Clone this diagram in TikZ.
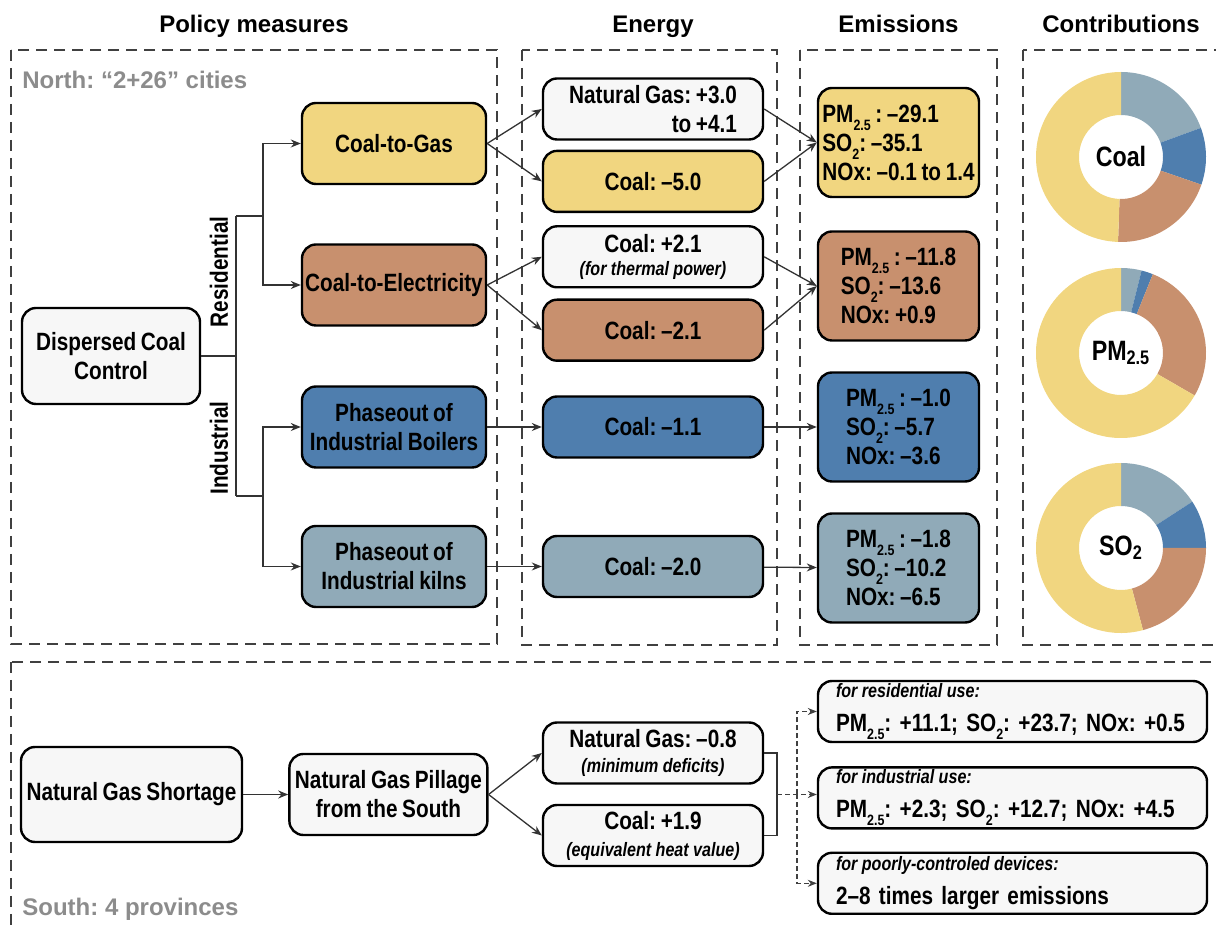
\documentclass[tikz,border=0pt]{standalone}
\usepackage{fontspec}
\setmainfont{Liberation Sans}[FakeStretch=0.83, WordSpace=0.8]
\newfontfamily\widefont{Liberation Sans}
\usetikzlibrary{positioning, arrows.meta}

\definecolor{gasyellow}{HTML}{F1D680}
\definecolor{elecbrown}{HTML}{C8906E}
\definecolor{boilerblue}{HTML}{4F7EAE}
\definecolor{kilngray}{HTML}{90AAB8}
\definecolor{paper}{HTML}{F7F7F7}
\definecolor{regiongray}{HTML}{8C8C8C}

\newcommand{\lowsub}[1]{\raisebox{-4pt}{\fontsize{7.5}{8}\selectfont #1}}
\newcommand{\hint}[1]{{\fontsize{9.7}{11}\selectfont\itshape\spaceskip=2.2pt #1}}
\newcommand{\donutpart}[3]{\fill[#1] (#2:85) arc[start angle=#2, end angle=#3, radius=85] -- (#3:42) arc[start angle=#3, end angle=#2, radius=42] -- cycle;}

\tikzset{
  box/.style={draw, line width=1.2pt, rounded corners=7pt, inner sep=1pt, align=center, font=\fontsize{12.5}{14.5}\selectfont\bfseries},
  policy/.style={box, minimum width=92pt, minimum height=40.5pt},
  energy/.style={box, minimum width=110pt, minimum height=30.5pt},
  emis/.style={box, align=left, minimum width=80.5pt, minimum height=54.5pt},
  impact/.style={box, fill=paper, align=left, text width=176.5pt, inner xsep=9pt, minimum height=30.5pt},
  branch/.style={rotate=90, inner sep=0pt, font=\fontsize{12.5}{14.5}\selectfont\bfseries},
  colhead/.style={anchor=base, inner sep=0pt, font=\widefont\fontsize{12}{14}\selectfont\bfseries},
  region/.style={anchor=base west, inner sep=0pt, text=regiongray, font=\widefont\fontsize{12}{14}\selectfont\bfseries},
  donutlabel/.style={inner sep=0pt, font=\fontsize{14}{16}\selectfont\bfseries},
  zone/.style={line width=0.65pt, draw=black!75, dash pattern=on 5.5pt off 3.5pt},
  link/.style={line width=0.65pt, draw=black!80},
  flow/.style={link, -{Stealth[length=5pt, width=4pt]}},
  dflow/.style={line width=0.55pt, draw=black!75, dash pattern=on 2.5pt off 1.5pt, -{Stealth[length=4.5pt, width=3.5pt]}}
}

\begin{document}
\frenchspacing
\begin{tikzpicture}[x=0.5pt, y=-0.5pt]
\useasboundingbox (0,0) rectangle (1216,929);
\clip (0,0) rectangle (1216,929);

\node[colhead] (hpolicy) at (254,32.5) {Policy measures};
\node[colhead] (henergy) at (653,32.5) {Energy};
\node[colhead] (hemis) at (898.5,32.5) {Emissions};
\node[colhead] (hcontrib) at (1121,32.5) {Contributions};

\draw[zone] (11,50) rectangle (497,644);
\draw[zone] (522,50) rectangle (777,645);
\draw[zone] (800,50) rectangle (997,645);
\draw[zone] (1023,50) rectangle (1240,645);
\draw[zone] (11,662) rectangle (1240,960);

\node[region] (north) at (22,89) {North: “2+26” cities};
\node[region] (south) at (22,916) {South: 4 provinces};

\node[policy, fill=paper, minimum width=89pt, minimum height=48pt] (dcc) at (111,356) {Dispersed Coal\\Control};
\node[policy, fill=gasyellow] (gas) at (394,143.5) {Coal-to-Gas};
\node[policy, fill=elecbrown] (elec) at (394,285) {Coal-to-Electricity};
\node[policy, fill=boilerblue] (boil) at (394,427) {Phaseout of\\Industrial Boilers};
\node[policy, fill=kilngray] (kiln) at (394,566.5) {Phaseout of\\Industrial kilns};

\coordinate (trunk) at (236,356);
\coordinate (resroot) at (236,216);
\coordinate (indroot) at (236,496);
\coordinate (resfork) at (263,216);
\coordinate (indfork) at (263,496);
\draw[link] (dcc.east) -- (trunk);
\draw[link] (resroot) -- (indroot);
\draw[link] (resroot) -- (resfork);
\draw[link] (indroot) -- (indfork);
\draw[flow] (resfork) |- (gas);
\draw[flow] (resfork) |- (elec);
\draw[flow] (indfork) |- (boil);
\draw[flow] (indfork) |- (kiln);
\node[branch] (lres) at (219,272) {Residential};
\node[branch] (lind) at (219,448) {Industrial};

\node[energy, fill=paper, align=right] (ngas) at (653,109) {Natural Gas: +3.0\\to +4.1};
\node[energy, fill=gasyellow, below=4.5pt of ngas] (cgas) {Coal: --5.0};
\node[energy, fill=paper, below=6pt of cgas] (cpower) {Coal: +2.1\\[-3pt]\hint{(for thermal power)}};
\node[energy, fill=elecbrown, below=5pt of cpower] (celec) {Coal: --2.1};
\node[energy, fill=boilerblue] (cboil) at (653,427) {Coal: --1.1};
\node[energy, fill=kilngray] (ckiln) at (653,566.5) {Coal: --2.0};

\node[emis, fill=gasyellow] (egas) at (898.5,142.5) {PM\lowsub{2.5} : --29.1\\SO\lowsub{2}: --35.1\\NOx: --0.1 to 1.4};
\node[emis, fill=elecbrown] (eelec) at (898.5,286) {PM\lowsub{2.5} : --11.8\\SO\lowsub{2}: --13.6\\NOx: +0.9};
\node[emis, fill=boilerblue] (eboil) at (898.5,427) {PM\lowsub{2.5} : --1.0\\SO\lowsub{2}: --5.7\\NOx: --3.6};
\node[emis, fill=kilngray] (ekiln) at (898.5,568) {PM\lowsub{2.5} : --1.8\\SO\lowsub{2}: --10.2\\NOx: --6.5};

\draw[flow] (gas.east) -- (ngas.west);
\draw[flow] (gas.east) -- (cgas.west);
\draw[flow] (elec.east) -- (cpower.west);
\draw[flow] (elec.east) -- (celec.west);
\draw[flow] (boil) -- (cboil);
\draw[flow] (kiln) -- (ckiln);
\draw[flow] (ngas.east) -- (egas.west);
\draw[flow] (cgas.east) -- (egas.west);
\draw[flow] (cpower.east) -- (eelec.west);
\draw[flow] (celec.east) -- (eelec.west);
\draw[flow] (cboil) -- (eboil);
\draw[flow] (ckiln) -- (ekiln);

\begin{scope}[shift={(1121,157)}, yscale=-1]
  \donutpart{kilngray}{90}{20}
  \donutpart{boilerblue}{20}{-19}
  \donutpart{elecbrown}{-19}{-92}
  \donutpart{gasyellow}{-92}{-270}
\end{scope}
\begin{scope}[shift={(1121,353)}, yscale=-1]
  \donutpart{kilngray}{90}{76}
  \donutpart{boilerblue}{76}{68}
  \donutpart{elecbrown}{68}{-30}
  \donutpart{gasyellow}{-30}{-270}
\end{scope}
\begin{scope}[shift={(1121,548)}, yscale=-1]
  \donutpart{kilngray}{90}{33}
  \donutpart{boilerblue}{33}{0}
  \donutpart{elecbrown}{0}{-75}
  \donutpart{gasyellow}{-75}{-270}
\end{scope}
\node[donutlabel] (dcoal) at (1121,157) {Coal};
\node[donutlabel] (dpm) at (1121,353) {PM\textsubscript{2.5}};
\node[donutlabel] (dso) at (1121,548) {SO\textsubscript{2}};

\node[box, fill=paper, minimum width=110.5pt, minimum height=47.5pt] (shortage) at (131.5,794.5) {Natural Gas Shortage};
\node[box, fill=paper, minimum width=99pt, minimum height=40.5pt, right=22.5pt of shortage] (pillage) {Natural Gas Pillage\\from the South};
\node[energy, fill=paper] (ngdef) at (653,753) {Natural Gas: --0.8\\[-2pt]\hint{(minimum deficits)}};
\node[energy, fill=paper] (coalheat) at (653,835.5) {Coal: +1.9\\[-1pt]\hint{(equivalent heat value)}};
\draw[flow] (shortage) -- (pillage);
\draw[flow] (pillage.east) -- (ngdef.west);
\draw[flow] (pillage.east) -- (coalheat.west);

\node[impact] (resuse) at (1012.5,711.5) {\hint{for residential use:}\\[2.5pt]PM\lowsub{2.5}: +11.1; SO\lowsub{2}: +23.7; NOx: +0.5};
\node[impact, below=11.5pt of resuse] (induse) {\hint{for industrial use:}\\[2.5pt]PM\lowsub{2.5}: +2.3; SO\lowsub{2}: +12.7; NOx: +4.5};
\node[impact, below=11pt of induse] (pooruse) {\hint{for poorly-controled devices:}\\[2.5pt]2--8 times larger emissions};

\coordinate (merge) at (777,794.5);
\coordinate (tap) at (797,794.5);
\draw[link] (ngdef.east) -| (merge) |- (coalheat.east);
\draw[dflow] (merge) -- (merge -| induse.west);
\draw[dflow] (tap) |- (resuse.west);
\draw[dflow] (tap) |- (pooruse.west);
\end{tikzpicture}
\end{document}
